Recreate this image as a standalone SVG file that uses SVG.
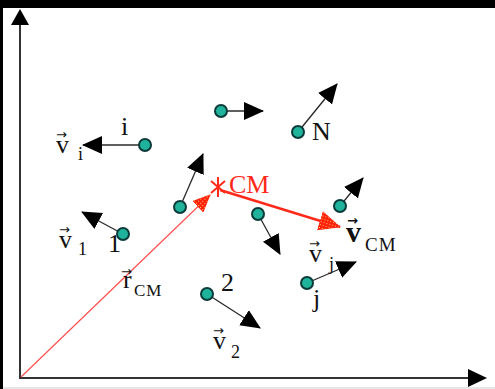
<svg xmlns="http://www.w3.org/2000/svg" width="495" height="389" viewBox="0 0 495 389">
<defs>
<style>
text{font-family:"Liberation Serif","Times New Roman",serif;fill:#111}
.lbl{font-size:26px}
.sub{font-size:18px}
.vec{font-size:13px;font-family:"DejaVu Sans","Liberation Sans",sans-serif}
.csub{font-size:17px;letter-spacing:1px}
.p{fill:#1fb39b;stroke:#0a3a3a;stroke-width:2}
.vel{stroke:#2a2a2a;stroke-width:1.3;fill:none;marker-end:url(#ah)}
</style>
<pattern id="dots" width="3" height="3" patternUnits="userSpaceOnUse">
<rect width="3" height="3" fill="#ff2010"/>
<rect x="1" y="1" width="1" height="1" fill="#ffd040"/>
</pattern>
<marker id="ah" markerWidth="20" markerHeight="18" refX="19" refY="9" orient="auto" markerUnits="userSpaceOnUse">
<path d="M0,0 L20,9 L0,18 z" fill="#000"/>
</marker>
<marker id="rah" markerWidth="22" markerHeight="20" refX="21" refY="10" orient="auto" markerUnits="userSpaceOnUse">
<path d="M0,0 L22,10 L0,20 z" fill="url(#dots)"/>
</marker>
<marker id="rah2" markerWidth="18" markerHeight="16" refX="17" refY="8" orient="auto" markerUnits="userSpaceOnUse">
<path d="M0,0 L18,8 L0,16 z" fill="url(#dots)"/>
</marker>
</defs>
<rect width="495" height="389" fill="#fff"/>
<rect x="0" y="0" width="495" height="8" fill="#000"/>
<rect x="0" y="0" width="3" height="389" fill="#000"/>
<rect x="3" y="387" width="492" height="2" fill="#e6e6e6"/>

<g id="connectors">
<g id="axes">
<line x1="20" y1="379" x2="20" y2="22" stroke="#333" stroke-width="2"/>
<polygon points="20,9 11,25 29,25" fill="#000"/>
<line x1="19" y1="378" x2="470" y2="378" stroke="#333" stroke-width="2"/>
<polygon points="487,378 468,369 468,387" fill="#000"/>
</g>
<line id="r-cm" x1="21" y1="377" x2="210" y2="195" stroke="#ff5050" stroke-width="1.2" marker-end="url(#rah2)"/>
<line id="v-cm" x1="220" y1="190" x2="340" y2="227" stroke="#ff2a1a" stroke-width="2.5" marker-end="url(#rah)"/>
</g>

<g id="cm">
<g stroke="#ff2a1a" stroke-width="2">
<line x1="218" y1="177" x2="218" y2="197"/>
<line x1="211" y1="181" x2="225" y2="193"/>
<line x1="211" y1="193" x2="225" y2="181"/>
</g>
<text x="229" y="193" class="lbl" style="fill:#ff2a1a">CM</text>
</g>

<g id="particle-i">
<line class="vel" x1="145" y1="145" x2="83" y2="145"/>
<circle class="p" cx="145" cy="145" r="6"/>
<text x="121" y="135" class="lbl">i</text>
<text><tspan x="56" y="139" class="vec">→</tspan><tspan x="56" y="153" class="lbl">v</tspan><tspan x="78" y="160" class="sub">i</tspan></text>
</g>

<g id="particle-a">
<line class="vel" x1="221" y1="111" x2="263" y2="111"/>
<circle class="p" cx="221" cy="111" r="6"/>
</g>

<g id="particle-N">
<line class="vel" x1="298" y1="132" x2="337" y2="84"/>
<circle class="p" cx="298" cy="132" r="6"/>
<text x="312" y="140" class="lbl">N</text>
</g>

<g id="particle-b">
<line class="vel" x1="180" y1="207" x2="203" y2="154"/>
<circle class="p" cx="180" cy="207" r="6"/>
</g>

<g id="particle-1">
<line class="vel" x1="123" y1="234" x2="82" y2="212"/>
<circle class="p" cx="123" cy="234" r="6"/>
<text x="108" y="252" class="lbl">1</text>
<text><tspan x="59" y="234" class="vec">→</tspan><tspan x="59" y="248" class="lbl">v</tspan><tspan x="78" y="255" class="sub">1</tspan></text>
</g>

<g id="particle-c">
<line class="vel" x1="258" y1="214" x2="280" y2="254"/>
<circle class="p" cx="258" cy="214" r="6"/>
</g>

<g id="particle-d">
<line class="vel" x1="340" y1="206" x2="363" y2="178"/>
<circle class="p" cx="340" cy="206" r="6"/>
</g>

<g id="particle-j">
<line class="vel" x1="307" y1="283" x2="356" y2="262"/>
<circle class="p" cx="307" cy="283" r="6"/>
<text x="313" y="307" class="lbl">j</text>
<text><tspan x="309" y="248" class="vec">→</tspan><tspan x="309" y="262" class="lbl">v</tspan><tspan x="329" y="270" class="sub">j</tspan></text>
</g>

<g id="particle-2">
<line class="vel" x1="207" y1="294" x2="260" y2="328"/>
<circle class="p" cx="207" cy="294" r="6"/>
<text x="221" y="291" class="lbl">2</text>
<text><tspan x="213" y="335" class="vec">→</tspan><tspan x="213" y="349" class="lbl">v</tspan><tspan x="231" y="358" class="sub">2</tspan></text>
</g>

<g id="label-rcm">
<text><tspan x="121" y="276" class="vec">→</tspan><tspan x="123" y="288" class="lbl">r</tspan><tspan x="134" y="296" class="csub">CM</tspan></text>
</g>

<g id="label-vcm">
<text><tspan x="347" y="225" class="vec" style="font-weight:bold">→</tspan><tspan x="346" y="242" style="font-size:30px;font-weight:bold">v</tspan><tspan x="365" y="251" style="font-size:19px;letter-spacing:1px">CM</tspan></text>
</g>
</svg>
